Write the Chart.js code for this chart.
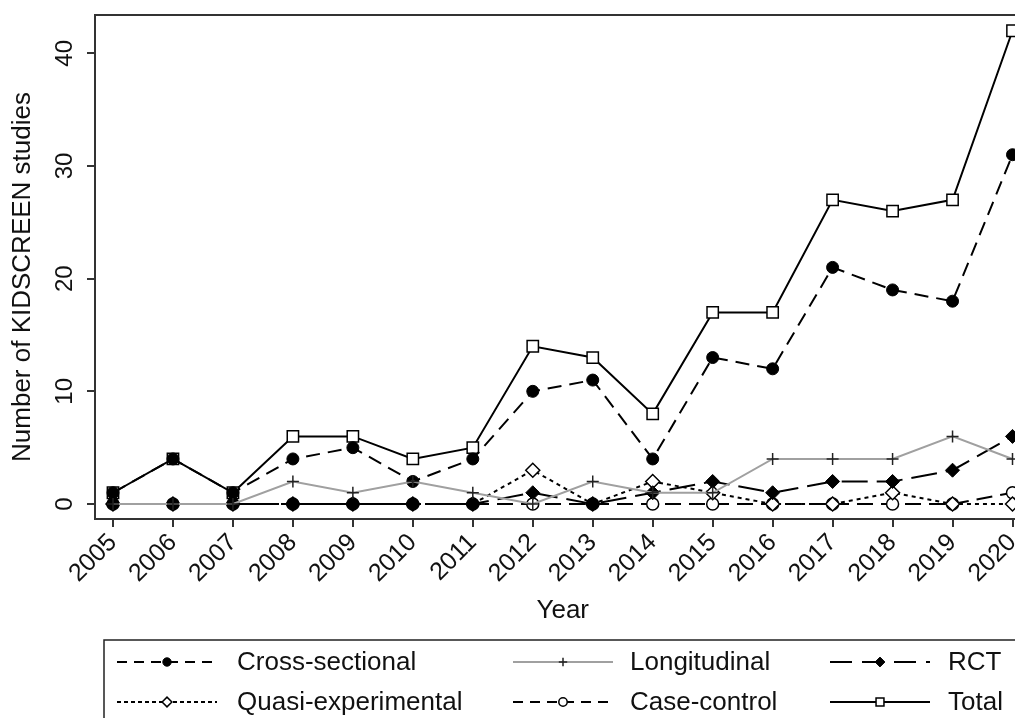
<!DOCTYPE html>
<html lang="en">
<head>
<meta charset="UTF-8" />
<title>KIDSCREEN studies per year</title>
<script src="https://cdn.jsdelivr.net/npm/chart.js"></script>
<style>
  html, body { margin: 0; padding: 0; background: #fff; overflow: hidden; }
  .chart-container { width: 1015px; height: 718px; overflow: hidden; }
  /* plot box runs past the right edge in the original, so the canvas is wider than the window */
  .chart-inner { width: 1040px; height: 718px; }
</style>
</head>
<body>
<div class="chart-container"><div class="chart-inner"><canvas id="studiesChart"></canvas></div></div>
<script>
const years = [2005, 2006, 2007, 2008, 2009, 2010, 2011, 2012, 2013, 2014, 2015, 2016, 2017, 2018, 2019, 2020];
const crossSectional = [1, 4, 1, 4, 5, 2, 4, 10, 11, 4, 13, 12, 21, 19, 18, 31];
const longitudinal   = [0, 0, 0, 2, 1, 2, 1, 0, 2, 1, 1, 4, 4, 4, 6, 4];
const rct            = [0, 0, 0, 0, 0, 0, 0, 1, 0, 1, 2, 1, 2, 2, 3, 6];
const quasiExp       = [0, 0, 0, 0, 0, 0, 0, 3, 0, 2, 1, 0, 0, 1, 0, 0];
const caseControl    = [0, 0, 0, 0, 0, 0, 0, 0, 0, 0, 0, 0, 0, 0, 0, 1];
const total          = [1, 4, 1, 6, 6, 4, 5, 14, 13, 8, 17, 17, 27, 26, 27, 42];
const yTicks = [0, 10, 20, 30, 40];

const FONT = '"Liberation Sans", Arial, sans-serif';
const INK = '#111';

function points(values) {
    return years.map((yr, i) => ({ x: yr, y: values[i] }));
}

const datasets = [
    { label: 'Cross-sectional', data: points(crossSectional), order: 2, legendDash: [10, 7],
      borderColor: '#000', borderWidth: 2, borderDash: [14, 8],
      pointStyle: 'circle', pointRadius: 6, pointBackgroundColor: '#000', pointBorderColor: '#000', pointBorderWidth: 1 },
    { label: 'Longitudinal', data: points(longitudinal), order: 1, legendDash: [],
      borderColor: '#a0a0a0', borderWidth: 2,
      pointStyle: 'cross', pointRadius: 6, pointBackgroundColor: '#222', pointBorderColor: '#222', pointBorderWidth: 1.5 },
    { label: 'RCT', data: points(rct), order: 3, legendDash: [22, 10],
      borderColor: '#000', borderWidth: 2, borderDash: [26, 9],
      pointStyle: 'rectRot', pointRadius: 7, pointBackgroundColor: '#000', pointBorderColor: '#000', pointBorderWidth: 1 },
    { label: 'Quasi-experimental', data: points(quasiExp), order: 4, legendDash: [4, 3],
      borderColor: '#000', borderWidth: 2, borderDash: [4, 4],
      pointStyle: 'rectRot', pointRadius: 7, pointBackgroundColor: '#fff', pointBorderColor: '#000', pointBorderWidth: 1.5 },
    { label: 'Case-control', data: points(caseControl), order: 5, legendDash: [10, 7],
      borderColor: '#000', borderWidth: 2, borderDash: [16, 8],
      pointStyle: 'circle', pointRadius: 6, pointBackgroundColor: '#fff', pointBorderColor: '#000', pointBorderWidth: 1.5 },
    { label: 'Total', data: points(total), order: 6, legendDash: [],
      borderColor: '#000', borderWidth: 2,
      pointStyle: 'rect', pointRadius: 8, pointBackgroundColor: '#fff', pointBorderColor: '#000', pointBorderWidth: 1.5 }
];

// legend grid: row 1 = first three, row 2 = last three
const legendLineX = [117, 513, 830];
const legendTextX = [237, 630, 948];
const legendRows = [662, 702];
const legendOrder = ['Cross-sectional', 'Longitudinal', 'RCT', 'Quasi-experimental', 'Case-control', 'Total'];

const extrasPlugin = {
    id: 'extras',
    afterDraw(chart) {
        const ctx = chart.ctx;
        const area = chart.chartArea;
        const yScale = chart.scales.y;
        ctx.save();

        // top edge of the plot box
        ctx.strokeStyle = '#333';
        ctx.lineWidth = 2;
        ctx.beginPath();
        ctx.moveTo(area.left - 1, area.top);
        ctx.lineTo(area.right, area.top);
        ctx.stroke();

        // y tick labels, turned vertical
        ctx.fillStyle = INK;
        ctx.font = '24px ' + FONT;
        ctx.textAlign = 'center';
        ctx.textBaseline = 'middle';
        yTicks.forEach((v) => {
            ctx.save();
            ctx.translate(65, yScale.getPixelForValue(v));
            ctx.rotate(-Math.PI / 2);
            ctx.fillText(String(v), 0, 0);
            ctx.restore();
        });

        // y axis title
        ctx.save();
        ctx.font = '26px ' + FONT;
        ctx.translate(23, 277);
        ctx.rotate(-Math.PI / 2);
        ctx.fillText('Number of KIDSCREEN studies', 0, 0);
        ctx.restore();

        // legend box
        ctx.strokeStyle = '#222';
        ctx.lineWidth = 1.5;
        ctx.strokeRect(104, 640, 1000, 120);

        ctx.font = '26px ' + FONT;
        ctx.textAlign = 'left';
        legendOrder.forEach((name, i) => {
            const ds = datasets.find((d) => d.label === name);
            const x0 = legendLineX[i % 3];
            const y0 = legendRows[Math.floor(i / 3)];
            const len = 100;
            ctx.setLineDash(ds.legendDash);
            ctx.strokeStyle = ds.borderColor;
            ctx.lineWidth = 2;
            ctx.beginPath();
            ctx.moveTo(x0, y0);
            ctx.lineTo(x0 + len, y0);
            ctx.stroke();
            ctx.setLineDash([]);
            ctx.fillStyle = ds.pointBackgroundColor;
            ctx.strokeStyle = ds.pointBorderColor;
            ctx.lineWidth = ds.pointBorderWidth;
            Chart.helpers.drawPoint(ctx, {
                pointStyle: ds.pointStyle, rotation: 0,
                radius: ds.pointRadius * 0.7, borderWidth: ds.pointBorderWidth
            }, x0 + len / 2, y0);
            ctx.fillStyle = INK;
            ctx.textBaseline = 'middle';
            ctx.fillText(name, legendTextX[i % 3], y0 + 1);
        });

        ctx.restore();
    }
};

const ctx = document.getElementById('studiesChart').getContext('2d');
new Chart(ctx, {
    type: 'line',
    data: { datasets: datasets },
    options: {
        responsive: true,
        maintainAspectRatio: false,
        animation: false,
        layout: { padding: { top: 14, right: 9, bottom: 92, left: 0 } },
        plugins: {
            legend: { display: false },
            tooltip: { enabled: false }
        },
        elements: { line: { tension: 0 } },
        scales: {
            x: {
                type: 'linear',
                min: 2004.7,
                max: 2020.3,
                afterBuildTicks: (scale) => { scale.ticks = years.map((v) => ({ value: v })); },
                afterFit: (scale) => { scale.height = 107; },
                grid: { drawOnChartArea: false, drawTicks: true, tickLength: 8, color: '#333', lineWidth: 2 },
                border: { display: true, color: '#333', width: 2 },
                ticks: {
                    autoSkip: false, minRotation: 45, maxRotation: 45, padding: 1,
                    color: INK, font: { family: FONT, size: 25 },
                    callback: (v) => String(v)
                },
                title: { display: true, text: 'Year', color: INK, font: { family: FONT, size: 26 }, padding: { top: 0, bottom: 0 } }
            },
            y: {
                min: -1.33,
                max: 43.4,
                afterBuildTicks: (scale) => { scale.ticks = yTicks.map((v) => ({ value: v })); },
                afterFit: (scale) => { scale.width = 95; },
                grid: { drawOnChartArea: false, drawTicks: true, tickLength: 8, color: '#333', lineWidth: 2 },
                border: { display: true, color: '#333', width: 2 },
                ticks: { color: 'rgba(0,0,0,0)', font: { family: FONT, size: 20 } },
                title: { display: false }
            }
        }
    },
    plugins: [extrasPlugin]
});
</script>
</body>
</html>
